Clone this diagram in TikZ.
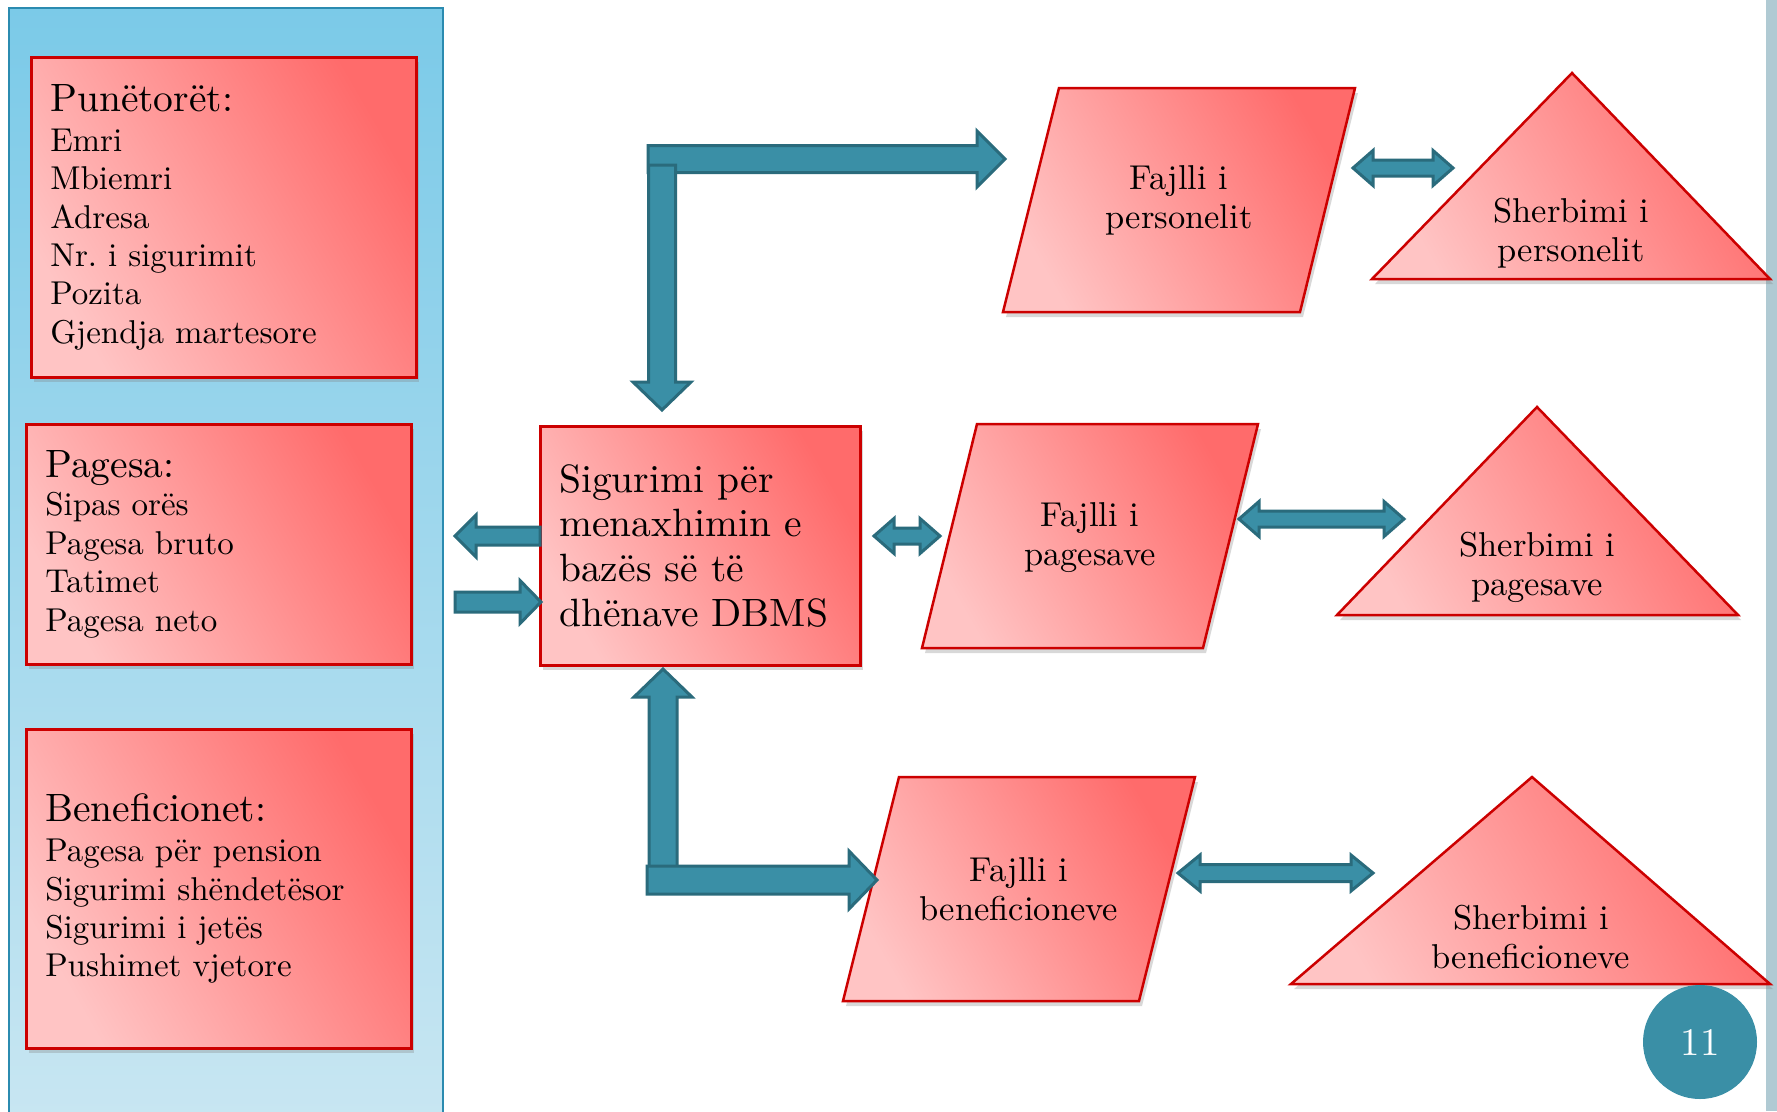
\documentclass[tikz,border=0pt]{standalone}
\usepackage{fontspec}
\setmainfont{lmroman10-regular.otf}
\usetikzlibrary{calc,shadows}

\definecolor{redline}{HTML}{CC0000}
\definecolor{pinklight}{HTML}{FFC4C4}
\definecolor{pinkdark}{HTML}{FF6B6B}
\definecolor{arrfill}{HTML}{3A8FA6}
\definecolor{arrline}{HTML}{2A6B7C}
\definecolor{panelblue}{HTML}{7BCAE8}
\definecolor{panellight}{HTML}{C8E6F2}
\definecolor{panelline}{HTML}{2B8BB0}
\definecolor{stripgray}{HTML}{B0CAD3}

\tikzset{
	redshape/.style={draw=redline, line width=2.5pt, left color=pinklight, right color=pinkdark, shading angle=120,
		drop shadow={shadow xshift=3pt, shadow yshift=-5pt, opacity=0.3}},
	listbox/.style={redshape, anchor=north west, align=left, text width=347pt, inner xsep=19pt,
		minimum height=#1, font=\fontsize{33}{38.4}\selectfont},
	lbl/.style={align=center, font=\fontsize{34.5}{39}\selectfont},
	blk/.style={fill=arrfill, draw=arrline, line width=3pt},
}

% block arrow: tail, tip, half shaft, half head, head length
\newcommand{\blockarrow}[5]{
	\coordinate (hb) at ($(#2)!#5!(#1)$);
	\draw[blk] ($(#1)!#3!90:(#2)$) -- ($(hb)!#3!-90:(#1)$) -- ($(hb)!#4!-90:(#1)$) -- (#2)
		-- ($(hb)!#4!90:(#1)$) -- ($(hb)!#3!90:(#1)$) -- ($(#1)!#3!-90:(#2)$) -- cycle;
}
% double block arrow: end, end, half shaft, half head, head length
\newcommand{\dblarrow}[5]{
	\coordinate (ha) at ($(#1)!#5!(#2)$);
	\coordinate (hb) at ($(#2)!#5!(#1)$);
	\draw[blk] (#1) -- ($(ha)!#4!90:(#2)$) -- ($(ha)!#3!90:(#2)$) -- ($(hb)!#3!-90:(#1)$) -- ($(hb)!#4!-90:(#1)$) -- (#2)
		-- ($(hb)!#4!90:(#1)$) -- ($(hb)!#3!90:(#1)$) -- ($(ha)!#3!-90:(#2)$) -- ($(ha)!#4!-90:(#2)$) -- cycle;
}

\begin{document}
\begin{tikzpicture}[x=1pt, y=-1pt]
	\useasboundingbox[fill=white] (0,0) rectangle (1777,1111);
	\fill[stripgray] (1766,0) rectangle (1777,1111);

	% left panel
	\draw[top color=panelblue, bottom color=panellight, draw=panelline, line width=2pt] (9,8) rectangle (443,1125);
	\node[listbox=320pt] (punet) at (30,56) {{\fontsize{39.5}{42}\selectfont Punëtorët:}\\[1.5pt] Emri\\ Mbiemri\\ Adresa\\ Nr.\ i sigurimit\\ Pozita\\ Gjendja martesore};
	\node[listbox=240pt] (pages) at (25,423) {{\fontsize{39.5}{42}\selectfont Pagesa:}\\ Sipas orës\\ Pagesa bruto\\ Tatimet\\ Pagesa neto};
	\node[listbox=319pt] (benef) at (25,728) {{\fontsize{39.5}{42}\selectfont Beneficionet:}\\[1.5pt] Pagesa për pension\\ Sigurimi shëndetësor\\ Sigurimi i jetës\\ Pushimet vjetore};

	% DBMS
	\node[redshape, anchor=north west, minimum width=320pt, minimum height=239pt, text width=282pt, inner xsep=19pt,
		align=left, font=\fontsize{39.5}{44.6}\selectfont] (dbms) at (539,425) {Sigurimi për\\ menaxhimin e\\ bazës së të\\ dhënave DBMS};

	% files
	\draw[redshape] (1059,88) -- (1355,88) -- (1300,312) -- (1003,312) -- cycle;
	\node[lbl] (fp) at (1179,200) {Fajlli i\\ personelit};
	\draw[redshape] (977,424) -- (1258,424) -- (1203,648) -- (922,648) -- cycle;
	\node[lbl] (fpg) at (1090,538) {Fajlli i\\ pagesave};
	\draw[redshape] (899,777) -- (1195,777) -- (1139,1001) -- (843,1001) -- cycle;
	\node[lbl] (fb) at (1019,889) {Fajlli i\\ beneficioneve};

	% services
	\draw[redshape] (1572,73) -- (1770,279) -- (1372,279) -- cycle;
	\node[lbl] (sp) at (1571,233) {Sherbimi i\\ personelit};
	\draw[redshape] (1537,407) -- (1738,615) -- (1337,615) -- cycle;
	\node[lbl] (spg) at (1537,567) {Sherbimi i\\ pagesave};
	\draw[redshape] (1532,777) -- (1770,984) -- (1291,984) -- cycle;
	\node[lbl] (sb) at (1531,937) {Sherbimi i\\ beneficioneve};

	% arrow ends
	\coordinate (t1) at (648,159);  \coordinate (t2) at (1005,159);
	\coordinate (d1) at (662,165);  \coordinate (d2) at (662,410);
	\coordinate (u1) at (663,880);  \coordinate (u2) at (663,669);
	\coordinate (r1) at (647,880);  \coordinate (r2) at (877,880);
	\coordinate (l1) at (540,536);  \coordinate (l2) at (455,536);
	\coordinate (i1) at (455,602);  \coordinate (i2) at (541,602);

	\blockarrow{t1}{t2}{13.5pt}{28pt}{28pt}
	\blockarrow{d1}{d2}{13.5pt}{29pt}{28pt}
	\blockarrow{u1}{u2}{14pt}{29pt}{28pt}
	\blockarrow{r1}{r2}{14pt}{29pt}{28pt}
	\blockarrow{l1}{l2}{9pt}{21pt}{21pt}
	\blockarrow{i1}{i2}{10pt}{21.5pt}{21pt}

	\coordinate (a1) at (874,536);  \coordinate (a2) at (940,536);
	\coordinate (b1) at (1353,168); \coordinate (b2) at (1453,168);
	\coordinate (c1) at (1239,519); \coordinate (c2) at (1404,519);
	\coordinate (e1) at (1178,873); \coordinate (e2) at (1373,873);
	\dblarrow{a1}{a2}{8pt}{17.5pt}{20pt}
	\dblarrow{b1}{b2}{8pt}{17.5pt}{20pt}
	\dblarrow{c1}{c2}{8pt}{17.5pt}{20pt}
	\dblarrow{e1}{e2}{8.5pt}{18pt}{22pt}

	% page number
	\node[circle, fill=arrfill, minimum size=114pt, inner sep=0pt, text=white, font=\fontsize{39}{39}\selectfont] (pnum) at (1700,1042) {11};
\end{tikzpicture}
\end{document}
